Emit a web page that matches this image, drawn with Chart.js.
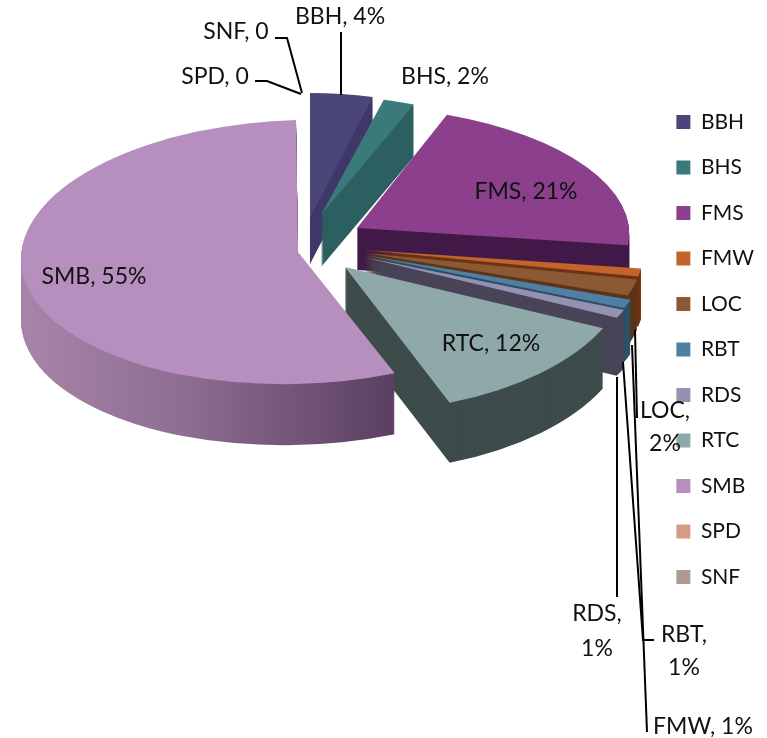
<!DOCTYPE html>
<html><head><meta charset="utf-8">
<style>html,body{margin:0;padding:0;background:#fff}#w{width:767px;height:738px;position:relative}</style>
<script src="https://cdn.jsdelivr.net/npm/chart.js@4"></script>
</head><body><div id="w"><canvas id="c" width="767" height="738"></canvas></div>
<script>
const categories = ['BBH','BHS','FMS','FMW','LOC','RBT','RDS','RTC','SMB','SPD','SNF'];
const shares = [4,2,21,1,2,1,1,12,55,0,0];
const valueTexts = ['4%','2%','21%','1%','2%','1%','1%','12%','55%','0','0'];
const faceColors = ['#4A4679','#3A7A7B','#8B3F8C','#C4642B','#8B5A35','#4F7FA3','#9491B3','#8FA9AB','#B78FBF','#D69B88','#AE9A8F'];
const wallColors = ['#3F3868','#2B5F60','#421A48','#6B3415','#5C3519','#2C5066','#4A4458','#3D4B4B','#7A5A80','#D69B88','#AE9A8F'];

const ANCHOR = {x:330, y:250};
const PIE_RADIUS = 272;
// explosion offset from the anchor, projection terms (a,b,c,d) and extrusion depth of each slice
const sliceViews = [
 {dx:-20,dy:-32,a:250,b:0,c:0,d:125,depth:46},
 {dx:-9, dy:-35,a:250,b:0,c:0,d:119,depth:52},
 {dx:27, dy:-22,a:272,b:12,c:0,d:122,depth:42},
 {dx:35, dy:0,  a:279,b:0,c:0,d:130,depth:50},
 {dx:35, dy:3,  a:278,b:0,c:0,d:130,depth:50},
 {dx:34, dy:5,  a:282,b:0,c:0,d:137,depth:54},
 {dx:33, dy:7,  a:283,b:0,c:0,d:137,depth:58},
 {dx:15, dy:17, a:284,b:8,c:-4,d:146,depth:60},
 {dx:-32,dy:2,  a:277,b:2,c:-8,d:132,depth:61},
 {dx:0,dy:0,a:270,b:0,c:0,d:130,depth:0},
 {dx:0,dy:0,a:270,b:0,c:0,d:130,depth:0}
];
const FONT = '23px Lato';
const labelSpots = [
 {i:0, lines:[[340,17]], leader:[[341,32],[341,95]]},
 {i:1, lines:[[445,77]]},
 {i:2, lines:[[526,192]]},
 {i:8, lines:[[94,277]]},
 {i:7, lines:[[491,344]]},
 {i:9, lines:[[215,77]], leader:[[255,81],[267,81],[301,94]]},
 {i:10,lines:[[236,32]], leader:[[275,38],[287,38],[302,93]]},
 {i:4, lines:[[665,411],[665,444]], leader:[[635,330],[637,418]]},
 {i:6, lines:[[597,614],[597,649]], leader:[[617,377],[617,597]]},
 {i:5, lines:[[684,635],[684,668]], leader:[[623,362],[643,640],[654,640]]},
 {i:3, lines:[[703,727]], leader:[[632,345],[647,732]]}
];

const tiltedPie = {
  id:'tiltedPie',
  beforeDatasetDraw(chart,args){
    const ctx = chart.ctx;
    const arcs = chart.getDatasetMeta(args.index).data;
    arcs.forEach((arc,i)=>{
      if(!shares[i]) return;
      const v = sliceViews[i], base = arc.options, R = PIE_RADIUS;
      const paint = (fill,shift)=>{
        ctx.save();
        ctx.transform(v.a/R, v.c/R, v.b/R, v.d/R, ANCHOR.x+v.dx, ANCHOR.y+v.dy+shift);
        ctx.translate(-arc.x,-arc.y);
        arc.options = Object.assign({},base,{backgroundColor:fill,borderWidth:0,offset:0,spacing:0});
        arc.draw(ctx);
        arc.options = base;
        ctx.restore();
      };
      let wall = wallColors[i];
      if(categories[i]==='SMB'){
        wall = ctx.createLinearGradient(arc.x-R,0,arc.x+R*0.35,0);
        wall.addColorStop(0,'#A685A8');
        wall.addColorStop(0.45,'#8C6C90');
        wall.addColorStop(1,'#5A3F60');
      }
      for(let d=v.depth;d>=1;d--) paint(wall,d);
      paint(faceColors[i],0);
    });
    return false;
  },
  afterDraw(chart){
    const ctx = chart.ctx;
    ctx.save();
    ctx.strokeStyle='#000'; ctx.lineWidth=2; ctx.fillStyle='#111';
    ctx.font=FONT; ctx.textAlign='center'; ctx.textBaseline='middle';
    labelSpots.forEach(s=>{
      const txt = categories[s.i]+', '+valueTexts[s.i];
      const parts = s.lines.length>1 ? [categories[s.i]+',',valueTexts[s.i]] : [txt];
      s.lines.forEach((p,k)=>ctx.fillText(parts[k],p[0],p[1]));
      if(s.leader){
        ctx.beginPath();
        s.leader.forEach((p,k)=>k?ctx.lineTo(p[0],p[1]):ctx.moveTo(p[0],p[1]));
        ctx.stroke();
      }
    });
    ctx.restore();
  }
};

new Chart(document.getElementById('c'),{
  type:'pie',
  data:{labels:categories,datasets:[{data:shares,backgroundColor:faceColors,borderWidth:0,radius:PIE_RADIUS}]},
  options:{
    responsive:false,animation:false,rotation:0,
    layout:{padding:{bottom:39,right:3}},
    plugins:{
      tooltip:{enabled:false},
      legend:{position:'right',labels:{boxWidth:14,boxHeight:14,padding:24.5,color:'#111',font:{family:'Lato',size:21}}}
    }
  },
  plugins:[tiltedPie]
});
</script></body></html>
